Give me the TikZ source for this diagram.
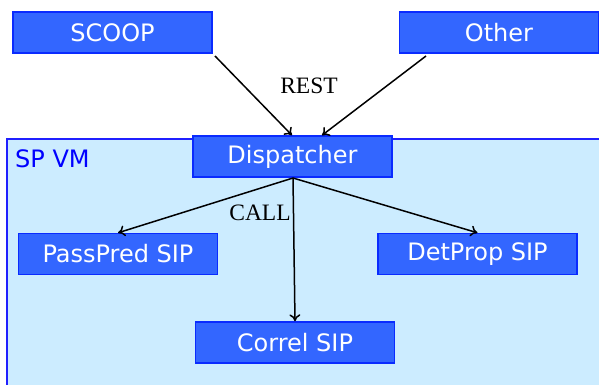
\documentclass[tikz,border=0pt]{standalone}
\usepackage{fontspec}
\setmainfont{DejaVu Sans}
\newfontfamily\serifff{Liberation Serif}
\usetikzlibrary{arrows.meta}
\definecolor{boxfill}{HTML}{3366FF}
\definecolor{boxline}{HTML}{0A2BFF}
\definecolor{vmfill}{HTML}{CCECFF}
\definecolor{vmline}{HTML}{2020FF}
\begin{document}
\begin{tikzpicture}[x=1pt,y=-1pt,
  blk/.style={draw=boxline, fill=boxfill, line width=1.4pt, text=white,
    minimum width=199pt, minimum height=41pt, inner sep=0pt,
    font=\fontsize{24}{28}\selectfont},
  lbl/.style={font=\serifff\fontsize{23.5}{26}\selectfont, text=black, inner sep=0pt},
  conn/.style={-{To[length=7pt,width=11pt,line width=1.5pt]}, line width=1.5pt, black}]
\useasboundingbox (0,0) rectangle (599,385);
\fill[white] (0,0) rectangle (599,385);
\draw[draw=vmline, fill=vmfill, line width=1.4pt] (7,398) -- (7,139) -- (612,139);
\fill[vmfill] (7.7,139.7) rectangle (612,398);
\node[text=blue, anchor=west, inner sep=0pt, font=\fontsize{24}{28}\selectfont] (vm) at (15,159) {SP VM};
\node[blk] (scoop) at (112.5,32.5) {SCOOP};
\node[blk] (other) at (499,32.5) {Other};
\node[blk] (disp) at (292.5,156.5) {Dispatcher};
\node[blk] (pass) at (118,254) {PassPred SIP};
\node[blk] (det) at (477.5,254) {DetProp SIP};
\node[blk] (corr) at (295,342.5) {Correl SIP};
\node[lbl] (rest) at (309,85.5) {REST};
\node[lbl] (call) at (260,213) {CALL};
\coordinate (s0) at (215,56);
\coordinate (o0) at (426,56);
\coordinate (d0) at (293,178);
\draw[conn] (s0) -- (disp.north -| 292,0);
\draw[conn] (o0) -- (disp.north -| 322,0);
\draw[conn] (d0) -- (pass.north);
\draw[conn] (d0) -- (det.north);
\draw[conn] (d0) -- (corr.north);
\end{tikzpicture}
\end{document}
